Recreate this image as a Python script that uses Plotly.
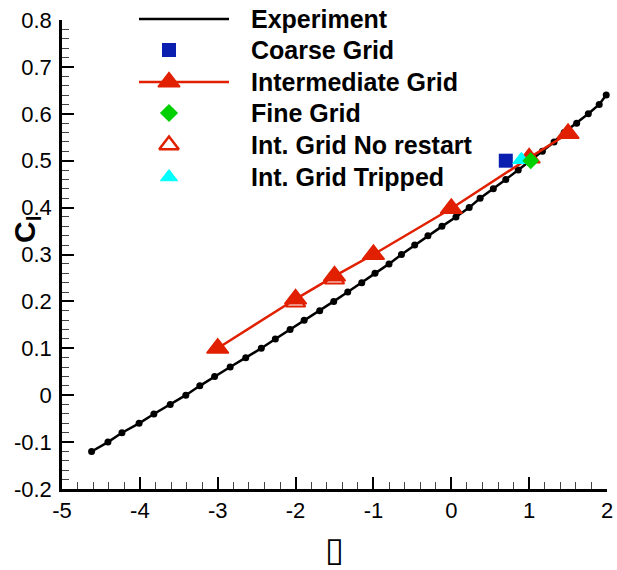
import plotly.graph_objects as go

# ---------------- data ----------------
exp_alpha = [-4.62, -4.41, -4.23, -4.01, -3.82, -3.61, -3.41, -3.23, -3.04, -2.84,
             -2.64, -2.44, -2.26, -2.07, -1.89, -1.69, -1.51, -1.33, -1.15, -0.98,
             -0.80, -0.64, -0.47, -0.30, -0.12, 0.06, 0.23, 0.37, 0.54, 0.70,
             0.86, 1.01, 1.17, 1.32, 1.45, 1.61, 1.76, 1.90, 1.99]
exp_cl = [-0.12, -0.10, -0.08, -0.06, -0.04, -0.02, 0.00, 0.02, 0.04, 0.06,
          0.08, 0.10, 0.12, 0.14, 0.16, 0.18, 0.20, 0.22, 0.24, 0.26,
          0.28, 0.30, 0.32, 0.34, 0.36, 0.38, 0.40, 0.42, 0.44, 0.46,
          0.48, 0.50, 0.52, 0.54, 0.56, 0.58, 0.60, 0.62, 0.64]

coarse_alpha = [0.70]
coarse_cl = [0.50]

inter_alpha = [-3.0, -2.0, -1.5, -1.0, 0.0, 1.0, 1.5]
inter_cl = [0.100, 0.205, 0.254, 0.300, 0.398, 0.506, 0.558]

fine_alpha = [1.02]
fine_cl = [0.50]

norestart_alpha = [-2.0, -1.5]
norestart_cl = [0.198, 0.247]

tripped_alpha = [0.90]
tripped_cl = [0.502]

x_ticks = [-5, -4, -3, -2, -1, 0, 1, 2]
y_ticks = [-0.2, -0.1, 0, 0.1, 0.2, 0.3, 0.4, 0.5, 0.6, 0.7, 0.8]
y_tick_text = ["-0.2", "-0.1", "0", "0.1", "0.2", "0.3", "0.4", "0.5", "0.6", "0.7", "0.8"]

legend_labels = ["Experiment", "Coarse Grid", "Intermediate Grid", "Fine Grid",
                 "Int. Grid No restart", "Int. Grid Tripped"]

# ---------------- style ----------------
RED = "#e02000"
BLUE = "#0a1fb0"
GREEN = "#00d000"
CYAN = "#00ffff"
FONT = "Liberation Sans, Arial, sans-serif"

fig = go.Figure()

fig.add_trace(go.Scatter(x=exp_alpha, y=exp_cl, mode="lines+markers",
                         line=dict(color="black", width=2.5),
                         marker=dict(color="black", size=7, symbol="circle"),
                         cliponaxis=False, showlegend=False, hoverinfo="skip"))
fig.add_trace(go.Scatter(x=coarse_alpha, y=coarse_cl, mode="markers",
                         marker=dict(color=BLUE, size=14, symbol="square"),
                         cliponaxis=False, showlegend=False))
fig.add_trace(go.Scatter(x=norestart_alpha, y=norestart_cl, mode="markers",
                         marker=dict(color="white", size=17, symbol="triangle-up",
                                     line=dict(color=RED, width=2)),
                         cliponaxis=False, showlegend=False))
fig.add_trace(go.Scatter(x=inter_alpha, y=inter_cl, mode="lines+markers",
                         line=dict(color=RED, width=2.5),
                         marker=dict(color=RED, size=19, symbol="triangle-up",
                                     line=dict(color=RED, width=1.5)),
                         cliponaxis=False, showlegend=False))
fig.add_trace(go.Scatter(x=tripped_alpha, y=tripped_cl, mode="markers",
                         marker=dict(color=CYAN, size=15, symbol="triangle-up",
                                     line=dict(color=CYAN, width=1)),
                         cliponaxis=False, showlegend=False))
fig.add_trace(go.Scatter(x=fine_alpha, y=fine_cl, mode="markers",
                         marker=dict(color=GREEN, size=13, symbol="diamond"),
                         cliponaxis=False, showlegend=False))

# ---------------- hand-drawn legend (layout only) ----------------
W, H = 617, 570
ML, MR, MT, MB = 62, 10, 20, 81
PW, PH = W - ML - MR, H - MT - MB


def px_x(px):
    return (px - ML) / PW


def px_y(py):
    return (H - MB - py) / PH


row_y = [19, 50, 82, 113, 145, 177]
line_x0, line_x1, mark_x, text_x = 139, 229, 169, 249
legend_styles = [
    dict(line=("black", 2.5), marker=dict(color="black", size=7, symbol="circle")),
    dict(line=None, marker=dict(color=BLUE, size=14, symbol="square")),
    dict(line=(RED, 2.5), marker=dict(color=RED, size=19, symbol="triangle-up",
                                      line=dict(color=RED, width=1.5))),
    dict(line=None, marker=dict(color=GREEN, size=14, symbol="diamond")),
    dict(line=None, marker=dict(color="white", size=17, symbol="triangle-up",
                                line=dict(color=RED, width=2.5))),
    dict(line=None, marker=dict(color=CYAN, size=15, symbol="triangle-up",
                                line=dict(color=CYAN, width=1))),
]

for label, ry, st in zip(legend_labels, row_y, legend_styles):
    if st["line"] is not None:
        fig.add_shape(type="line", xref="paper", yref="paper",
                      x0=px_x(line_x0), x1=px_x(line_x1), y0=px_y(ry), y1=px_y(ry),
                      line=dict(color=st["line"][0], width=st["line"][1]))
    fig.add_trace(go.Scatter(x=[px_x(mark_x)], y=[px_y(ry)], xaxis="x2", yaxis="y2",
                             mode="markers", marker=st["marker"], cliponaxis=False,
                             showlegend=False, hoverinfo="skip"))
    fig.add_annotation(x=px_x(text_x), y=px_y(ry), xref="paper", yref="paper",
                       text="<b>" + label + "</b>", showarrow=False,
                       xanchor="left", yanchor="middle",
                       font=dict(family=FONT, size=25, color="black"))

# axis titles
fig.add_annotation(x=0.5, y=px_y(549), xref="paper", yref="paper", text="▯",
                   showarrow=False, xanchor="center", yanchor="middle",
                   font=dict(family="DejaVu Sans", size=34, color="black"))
fig.add_annotation(x=px_x(26), y=px_y(229), xref="paper", yref="paper",
                   text="<b>C<sub>l</sub></b>", textangle=-90, showarrow=False,
                   xanchor="center", yanchor="middle",
                   font=dict(family=FONT, size=30, color="black"))

axis_common = dict(showgrid=False, zeroline=False, showline=True, linecolor="black",
                   linewidth=2.5, ticks="inside", ticklen=12, tickwidth=2,
                   tickcolor="black", mirror=False, automargin=False,
                   tickfont=dict(family=FONT, size=22, color="black"))

fig.update_layout(
    width=W, height=H,
    margin=dict(l=ML, r=MR, t=MT, b=MB, autoexpand=False),
    paper_bgcolor="white", plot_bgcolor="white",
    showlegend=False,
    xaxis=dict(range=[-5, 2], tickvals=x_ticks, ticktext=[str(v) for v in x_ticks],
               minor=dict(dtick=0.2, ticks="inside", ticklen=7, tickwidth=1,
                          tickcolor="#444"),
               ticklabelstandoff=0, **axis_common),
    yaxis=dict(range=[-0.2, 0.8], tickvals=y_ticks, ticktext=y_tick_text,
               minor=dict(dtick=0.02, ticks="inside", ticklen=7, tickwidth=1,
                          tickcolor="#444"),
               ticklabelstandoff=3, **axis_common),
    xaxis2=dict(range=[0, 1], domain=[0, 1], overlaying="x", visible=False,
                fixedrange=True),
    yaxis2=dict(range=[0, 1], domain=[0, 1], overlaying="y", visible=False,
                fixedrange=True),
)

fig.write_html("out.html")
